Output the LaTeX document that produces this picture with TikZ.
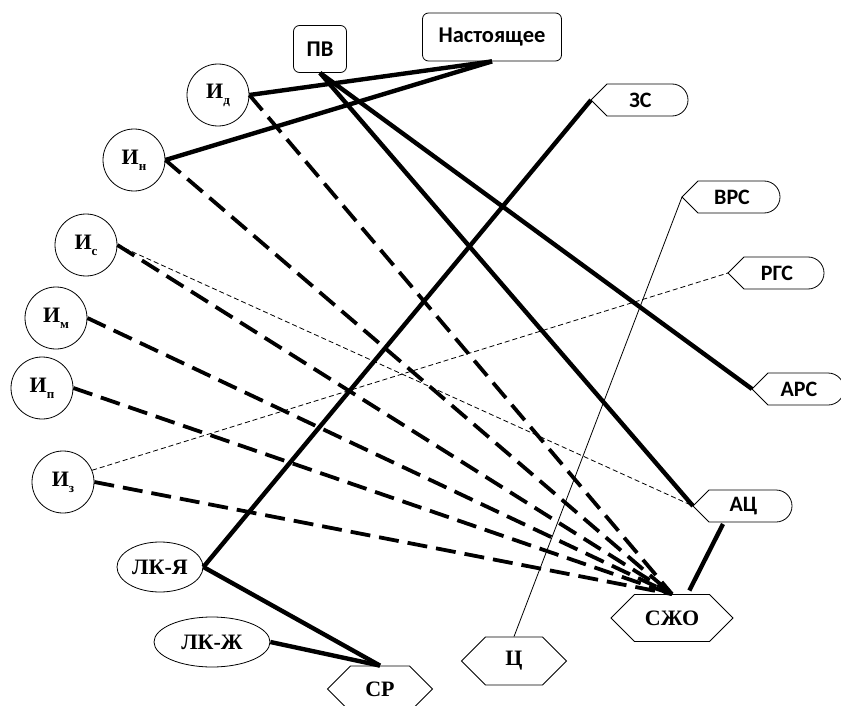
\documentclass[tikz,border=0pt]{standalone}
\usepackage{fontspec}
\setmainfont{Liberation Serif}
\newfontfamily\calibfont{Carlito}
\usetikzlibrary{calc,shapes.geometric,shapes.symbols}

\tikzset{
  ist/.style = {circle, draw, line width=0.8pt, minimum size=62pt, inner sep=0pt,
                font=\bfseries\fontsize{22}{24}\selectfont},
  lk/.style = {ellipse, draw, line width=0.8pt, minimum height=50pt, inner sep=0pt,
               font=\bfseries\fontsize{22}{24}\selectfont},
  hexa/.style = {signal, signal to=east and west, signal pointer angle=90, draw,
                 line width=0.8pt, inner sep=0pt, font=\bfseries\fontsize{22}{24}\selectfont},
  rbox/.style = {rectangle, rounded corners=6pt, draw, line width=0.8pt,
                 font=\calibfont\bfseries\fontsize{22.5}{24}\selectfont},
  dlabel/.style = {inner sep=0pt, font=\calibfont\bfseries\fontsize{22}{24}\selectfont},
  link/.style = {line width=4.4pt},
  dlink/.style = {line width=3.8pt, dash pattern=on 20pt off 9pt},
  tlink/.style = {line width=0.8pt, dash pattern=on 5pt off 3pt},
  vlink/.style = {line width=0.8pt}
}

% tip at (#2,#3), width #4
\newcommand{\dispbox}[5]{%
  \coordinate (#1) at (#2,#3);
  \draw[line width=0.8pt] (#1) -- ++(16,-16) -- ++(#4-32,0) arc (-90:90:16) -- ++(32-#4,0) -- cycle;
  \node[dlabel] (#1-t) at ($(#1)+(#4/2+1,0)$) {#5};
}
\newcommand{\isub}[1]{И\raisebox{-6pt}{\fontsize{13}{13}\selectfont #1}}

\begin{document}
\begin{tikzpicture}[x=1pt, y=-1pt]
  \useasboundingbox (0,0) rectangle (841,706);

  % top boxes
  \node[rbox, minimum width=53pt, minimum height=47pt] (pv) at (320,49) {ПВ};
  \node[rbox, minimum width=139pt, minimum height=48pt] (nast) at (492,37) {Настоящее};

  % sources
  \node[ist] (id) at (218,95) {\isub{д}};
  \node[ist] (in) at (134,160) {\isub{н}};
  \node[ist] (is) at (86,245) {\isub{с}};
  \node[ist] (im) at (56,318) {\isub{м}};
  \node[ist] (ip) at (42,388) {\isub{п}};
  \node[ist] (iz) at (63,482) {\isub{з}};

  \node[lk, minimum width=86pt] (lkya) at (160,567) {ЛК-Я};
  \node[lk, minimum width=116pt] (lkzh) at (212,642) {ЛК-Ж};

  \node[hexa, minimum width=105pt, minimum height=46pt] (sr) at (380,689) {СР};
  \node[hexa, minimum width=105pt, minimum height=48pt] (ts) at (514,661) {Ц};
  \node[hexa, minimum width=122pt, minimum height=47pt] (cjo) at (672,618) {СЖО};

  % right side
  \dispbox{zs}{591}{100}{97}{ЗС}
  \dispbox{vrs}{682}{197}{98}{ВРС}
  \dispbox{rgs}{728}{273}{96}{РГС}
  \dispbox{ars}{752}{389}{92}{АРС}
  \dispbox{ac}{693}{506}{99}{АЦ}
  \coordinate (acb) at ($(ac)+(30,18)$);

  % links
  \draw[link] (id.east) -- (nast.south);
  \draw[link] (in.east) -- (nast.south);
  \draw[link] (pv.south) -- (ars);
  \draw[link] (pv.south) -- (ac);
  \draw[link] (zs) -- (lkya.east);
  \draw[link] (lkya.east) -- (sr.north);
  \draw[link] (lkzh.east) -- (sr.north);
  \draw[link, shorten >=4pt] (acb) -- (cjo.57);

  \foreach \s in {id,in,is,im,ip,iz} {
    \draw[dlink] (\s.east) -- (cjo.north);
  }

  \draw[tlink] (is.east) -- (ac);
  \draw[tlink] (iz.22) -- (rgs);
  \draw[vlink] (vrs) -- (ts.north);

\end{tikzpicture}
\end{document}
